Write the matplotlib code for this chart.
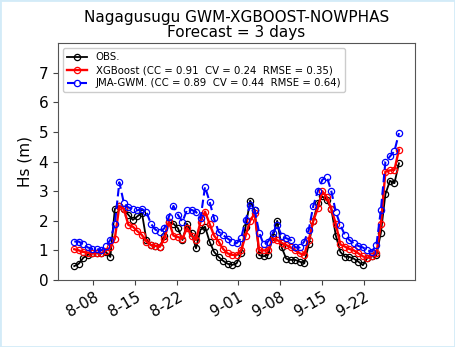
import matplotlib

matplotlib.use("Agg")
import matplotlib.pyplot as plt
import matplotlib.dates as mdates
from matplotlib.patches import Rectangle
import pandas as pd

# forecast issue times: first record and spacing between records
START = "2023-08-04 20:00"
STEP_HOURS = 18

obs = [0.47, 0.55, 0.75, 0.85, 0.9, 0.9, 0.9, 0.95, 0.78, 2.4,
       2.5, 2.4, 2.2, 2.03, 2.15, 2.27, 1.35, 1.18, 1.15, 1.13,
       1.5, 1.95, 1.9, 1.75, 1.35, 1.9, 1.6, 1.07, 1.7, 1.8,
       1.3, 0.95, 0.78, 0.65, 0.55, 0.51, 0.56, 0.9, 1.8, 2.68,
       2.35, 0.84, 0.8, 0.85, 1.45, 2.0, 1.1, 0.72, 0.68, 0.68,
       0.62, 0.56, 1.2, 2.0, 2.6, 2.82, 2.7, 2.4, 1.5, 0.95,
       0.79, 0.78, 0.72, 0.62, 0.5, 0.75, 0.8, 0.84, 1.6, 2.9,
       3.35, 3.27, 3.94]
xgb = [1.04, 1.0, 0.95, 0.92, 0.9, 0.92, 0.9, 0.98, 1.1, 1.4,
       2.5, 2.4, 1.86, 1.8, 1.65, 1.52, 1.3, 1.18, 1.15, 1.13,
       1.4, 1.97, 1.5, 1.45, 1.4, 1.76, 1.5, 1.35, 1.97, 2.31,
       1.9, 1.5, 1.3, 1.05, 0.9, 0.85, 0.84, 1.0, 1.5, 2.0,
       2.25, 1.0, 1.0, 1.0, 1.4, 1.35, 1.25, 1.18, 1.1, 1.0,
       0.9, 0.85, 1.35, 2.0, 2.42, 3.0, 2.8, 2.4, 1.9, 1.2,
       1.13, 1.05, 1.0, 0.9, 0.8, 0.75, 0.8, 0.9, 1.9, 3.66,
       3.7, 3.72, 4.4]
gwm = [1.3, 1.3, 1.2, 1.1, 1.05, 1.05, 1.0, 1.15, 1.35, 1.9,
       3.3, 2.6, 2.45, 2.4, 2.35, 2.4, 2.3, 1.9, 1.7, 1.63,
       1.75, 2.14, 2.5, 2.2, 1.97, 2.37, 2.37, 2.3, 2.08, 3.15,
       2.65, 2.08, 1.63, 1.52, 1.4, 1.3, 1.24, 1.41, 2.03, 2.53,
       2.37, 1.6, 1.2, 1.3, 1.58, 1.86, 1.5, 1.41, 1.35, 1.1,
       1.1, 1.3, 1.69, 2.5, 3.0, 3.38, 3.49, 3.0, 2.3, 1.86,
       1.52, 1.35, 1.24, 1.15, 1.1, 1.0, 0.96, 1.18, 2.37, 4.0,
       4.17, 4.35, 4.96]

tick_days = ["2023-08-08", "2023-08-15", "2023-08-22", "2023-09-01",
             "2023-09-08", "2023-09-15", "2023-09-22"]

label_obs = "OBS."
label_xgb = "XGBoost (CC = 0.91  CV = 0.24  RMSE = 0.35)"
label_gwm = "JMA-GWM. (CC = 0.89  CV = 0.44  RMSE = 0.64)"

times = pd.date_range(START, periods=len(obs), freq=f"{STEP_HOURS}h")

fig = plt.figure(figsize=(4.55, 3.47), dpi=100)
ax = fig.add_axes([0.1275, 0.193, 0.785, 0.683])

mk = dict(marker="o", markersize=4.5, markerfacecolor="none", markeredgewidth=0.9)
ax.plot(times, obs, color="black", lw=1.3, label=label_obs, **mk)
ax.plot(times, xgb, color="red", lw=1.7, label=label_xgb, **mk)
ax.plot(times, gwm, color="blue", lw=1.5, ls=(0, (4, 2)), label=label_gwm, **mk)

ax.set_ylim(0, 8)
ax.set_yticks(range(0, 8))
ax.set_xticks(pd.to_datetime(tick_days))
ax.xaxis.set_major_formatter(
    matplotlib.ticker.FuncFormatter(
        lambda v, _: f"{mdates.num2date(v).month}-{mdates.num2date(v).day:02d}"
    )
)
ax.tick_params(labelsize=11, length=3.5, color="#444444")
plt.setp(ax.get_xticklabels(), rotation=30, ha="right", rotation_mode="anchor")
ax.set_ylabel("Hs (m)", fontsize=11)
ax.set_title("Nagagusugu GWM-XGBOOST-NOWPHAS\nForecast = 3 days",
             fontsize=11, linespacing=1.0, pad=4)
for s in ax.spines.values():
    s.set_color("#555555")

ax.legend(loc="upper left", fontsize=7.3, handlelength=2.0, borderpad=0.4,
          labelspacing=0.3, framealpha=1, edgecolor="#cccccc")

# light frame round the whole panel
fig.patches.append(Rectangle((0, 0), 1, 1, transform=fig.transFigure,
                             fill=False, edgecolor="#d3ebf8", lw=2))

fig.savefig("out.png", dpi=100)
